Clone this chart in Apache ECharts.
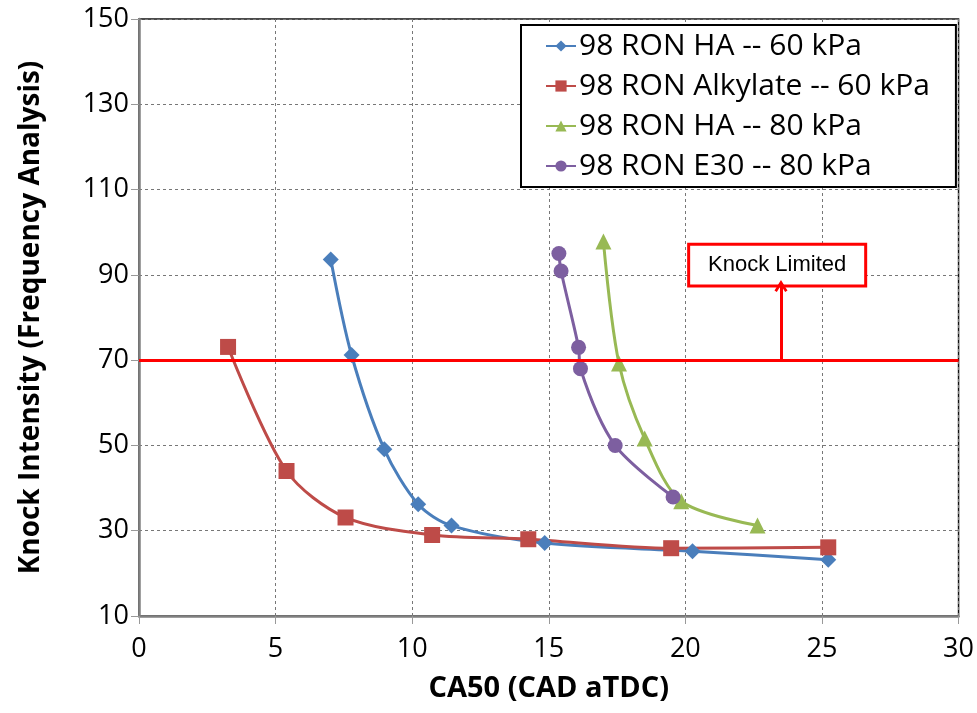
<!DOCTYPE html>
<html>
<head>
<meta charset="utf-8">
<script src="https://cdn.jsdelivr.net/npm/echarts@6/dist/echarts.min.js"></script>
<style>
  html, body { margin: 0; padding: 0; background: #fff; }
  #chart { width: 977px; height: 713px; }
</style>
</head>
<body>
<div id="chart"></div>
<script>
// series data: [CA50, knock intensity]
var ha60 = [[7.02, 93.6], [7.78, 71.2], [8.98, 49.1], [10.22, 36.2], [11.44, 31.2], [14.85, 27.1], [20.26, 25.2], [25.23, 23.2]]
var alk60 = [[3.26, 73.1], [5.40, 44.0], [7.56, 33.1], [10.73, 29.0], [14.25, 28.0], [19.48, 25.9], [25.23, 26.1]]
var ha80 = [[17.0, 97.8], [17.57, 69.2], [18.51, 51.6], [19.85, 36.9], [22.64, 31.2]]
var e30 = [[15.37, 95.0], [15.45, 90.9], [16.09, 73.0], [16.16, 68.0], [17.43, 50.0], [19.55, 37.9]]

var seriesNames = ['98 RON HA -- 60 kPa', '98 RON Alkylate -- 60 kPa', '98 RON HA -- 80 kPa', '98 RON E30 -- 80 kPa']
var knockLimit = 70
// annotation box corners and arrow, in data units
var boxCorners = [[20.12, 97.2], [26.6, 87.4]]
var arrowX = 23.5

var font = 'Open Sans'
var chart = echarts.init(document.getElementById('chart'))

function line (name, data, color, symbol, size) {
  return {
    name: name,
    type: 'line',
    data: data,
    smooth: 0.3,
    symbol: symbol,
    symbolSize: size,
    lineStyle: { color: color, width: 3 },
    itemStyle: { color: color },
    z: 3
  }
}

chart.setOption({
  animation: false,
  grid: {
    left: 139, top: 19, width: 820, height: 597,
    show: true, borderColor: '#111', borderWidth: 1.5, backgroundColor: 'transparent'
  },
  legend: {
    data: seriesNames,
    orient: 'vertical',
    left: 521, top: 25,
    padding: [6, 26, 6, 24],
    itemGap: 10,
    itemWidth: 30, itemHeight: 14,
    backgroundColor: '#fff',
    borderColor: '#000', borderWidth: 2,
    textStyle: { fontFamily: font, fontSize: 30, lineHeight: 30, color: '#000', padding: [0, 0, 0, -2] }
  },
  xAxis: {
    type: 'value', min: 0, max: 30, interval: 5,
    name: 'CA50 (CAD aTDC)', nameLocation: 'middle', nameGap: 58,
    nameTextStyle: { fontFamily: font, fontSize: 29, fontWeight: 'bold', color: '#000' },
    axisLine: { show: true, onZero: false, lineStyle: { color: '#808080', width: 2.5 } },
    axisTick: { show: true, length: 8, lineStyle: { color: '#999' } },
    axisLabel: { fontFamily: font, fontSize: 27, color: '#000', margin: 20 },
    splitLine: { show: true, lineStyle: { color: '#777', type: [3, 3], width: 1 } }
  },
  yAxis: {
    type: 'value', min: 10, max: 150, interval: 20,
    name: 'Knock Intensity (Frequency Analysis)', nameLocation: 'middle', nameGap: 94,
    nameTextStyle: { fontFamily: font, fontSize: 28, fontWeight: 'bold', color: '#000' },
    axisLine: { show: true, onZero: false, lineStyle: { color: '#808080', width: 2.5 } },
    axisTick: { show: true, length: 8, lineStyle: { color: '#999' } },
    axisLabel: { fontFamily: font, fontSize: 27, color: '#000', margin: 10 },
    splitLine: { show: true, lineStyle: { color: '#777', type: [3, 3], width: 1 } }
  },
  series: [
    line(seriesNames[0], ha60, '#4A7EBB', 'diamond', 16),
    line(seriesNames[1], alk60, '#BE4B48', 'rect', 16),
    line(seriesNames[2], ha80, '#98B954', 'triangle', 16),
    line(seriesNames[3], e30, '#7D5FA0', 'circle', 15),
    {
      name: 'limit',
      type: 'line',
      data: [],
      z: 2,
      markLine: {
        silent: true,
        animation: false,
        label: { show: false },
        data: [
          [{ coord: [0, knockLimit], symbol: 'none' }, { coord: [30, knockLimit], symbol: 'none' }],
          [{ coord: [arrowX, knockLimit], symbol: 'none' },
           { coord: [arrowX, boxCorners[1][1]], symbol: 'path://M0,8 L5,0 L10,8 L8.2,9.2 L5,4 L1.8,9.2 Z', symbolSize: [13, 12] }]
        ],
        lineStyle: { color: '#FF0000', width: 3, type: 'solid' }
      },
      markArea: {
        silent: true,
        itemStyle: { color: '#fff', borderColor: '#FF0000', borderWidth: 3 },
        label: {
          show: true, position: 'inside', color: '#000',
          fontFamily: 'Liberation Sans', fontSize: 22
        },
        data: [[
          { name: 'Knock Limited', coord: boxCorners[0] },
          { coord: boxCorners[1] }
        ]]
      }
    }
  ]
})
</script>
</body>
</html>
